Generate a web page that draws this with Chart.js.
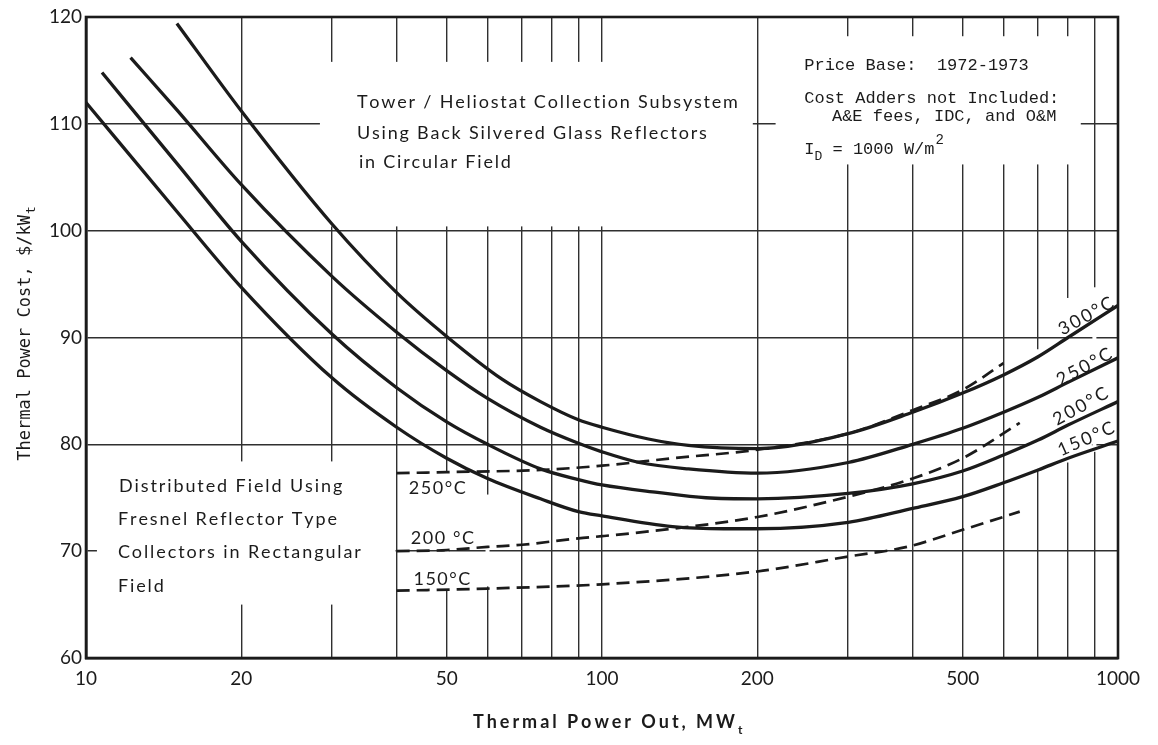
<!DOCTYPE html>
<html>
<head>
<meta charset="utf-8">
<script src="https://cdn.jsdelivr.net/npm/chart.js@4.4.0/dist/chart.umd.min.js"></script>
<style>
  html, body { margin: 0; padding: 0; background: #ffffff; }
  #wrap { width: 1158px; height: 745px; position: relative; }
</style>
</head>
<body>
<div id="wrap"><canvas id="c" width="1158" height="745"></canvas></div>
<script>
// Tower / heliostat field, solid curves: thermal power out (MWt) -> cost ($/kWt)
const towerX300 = [15, 20, 30, 40, 50, 64, 76, 90, 100, 123, 147, 200, 300, 400, 500, 600, 700, 800, 1000];
const towerY300 = [119.4, 111.2, 100.6, 94.2, 90.1, 86.1, 84.0, 82.3, 81.6, 80.5, 79.9, 79.6, 81.0, 83.0, 84.8, 86.5, 88.2, 90.0, 93.0];

const towerX250 = [12.2, 15, 20, 30, 40, 50, 60, 76, 90, 100, 118, 147, 200, 300, 400, 500, 600, 700, 800, 1000];
const towerY250 = [116.2, 111.3, 104.3, 95.7, 90.5, 86.9, 84.3, 81.6, 80.1, 79.3, 78.3, 77.7, 77.3, 78.3, 80.0, 81.5, 83.0, 84.4, 85.8, 88.1];

const towerX200 = [10.74, 15, 20, 30, 40, 50, 60, 76, 90, 100, 128, 159, 200, 300, 400, 500, 600, 700, 800, 1000];
const towerY200 = [114.8, 106.3, 99.0, 90.3, 85.3, 82.1, 80.0, 77.7, 76.7, 76.2, 75.5, 75.0, 74.9, 75.4, 76.3, 77.5, 79.0, 80.4, 81.8, 84.0];

const towerX150 = [10, 15, 20, 30, 40, 50, 60, 76, 90, 100, 137, 172, 200, 300, 400, 500, 600, 700, 800, 1000];
const towerY150 = [112.0, 101.8, 94.7, 86.2, 81.6, 78.7, 76.8, 74.9, 73.7, 73.3, 72.3, 72.1, 72.1, 72.7, 74.0, 75.1, 76.4, 77.6, 78.7, 80.3];

// Distributed Fresnel field, dashed curves
const fresnelX250 = [40, 50, 76, 100, 137, 200, 300, 400, 500, 600];
const fresnelY250 = [77.3, 77.4, 77.6, 78.0, 78.7, 79.5, 81.0, 83.2, 85.1, 87.6];

const fresnelX200 = [40, 50, 60, 70, 90, 100, 137, 200, 300, 400, 500, 645];
const fresnelY200 = [70.0, 70.1, 70.4, 70.6, 71.2, 71.4, 72.1, 73.2, 75.1, 76.8, 78.7, 82.0];

const fresnelX150 = [40, 60, 100, 200, 300, 390, 500, 645];
const fresnelY150 = [66.3, 66.5, 66.9, 68.1, 69.5, 70.4, 72.0, 73.7];

// Axis ticks
const xGridValues = [10, 20, 30, 40, 50, 60, 70, 80, 90, 100, 200, 300, 400, 500, 600, 700, 800, 900, 1000];
const xTickLabels = [10, 20, 50, 100, 200, 500, 1000];
const yTickValues = [60, 70, 80, 90, 100, 110, 120];

const INK = '#1b1b1b';
const GRID = '#2f2f2f';
const SANS = 'Lato, "DejaVu Sans", sans-serif';
const MONO = '"Liberation Mono", "DejaVu Sans Mono", monospace';
const TYPE = '"DejaVu Sans Mono", monospace';

function pts(xs, ys) { return xs.map((x, i) => ({ x: x, y: ys[i] })); }

function solid(label, xs, ys) {
  return { label, data: pts(xs, ys), borderColor: INK, borderWidth: 3.3,
           pointRadius: 0, cubicInterpolationMode: 'monotone', fill: false };
}
function dashed(label, xs, ys) {
  return { label, data: pts(xs, ys), borderColor: INK, borderWidth: 2.7,
           borderDash: [13, 7], pointRadius: 0, cubicInterpolationMode: 'monotone', fill: false };
}

// blank panels of the sheet that interrupt the grid (data units)
const panels = [
  { x0: 28.4, x1: 196, y0: 100.4, y1: 115.8 },
  { x0: 217, x1: 847, y0: 106.2, y1: 118.2 },
  { x0: 10.5, x1: 39.8, y0: 65.0, y1: 78.4 }
];
// short interruptions of single grid lines behind curve labels
const vBreaks = [
  { x: 50, y0: 66.3, y1: 77.4 }, { x: 60, y0: 66.7, y1: 75.3 },
  { x: 700, y0: 77.7, y1: 88.9 }, { x: 800, y0: 78.3, y1: 93.7 }, { x: 900, y0: 79.3, y1: 94.7 }
];
const hBreaks = [ { y: 80, x0: 664, x1: 890 } ];

// letter-spaced text, drawn glyph by glyph
function spacedWidth(ctx, str, spacing) {
  let w = 0;
  for (const ch of str) w += ctx.measureText(ch).width + spacing;
  return w - spacing;
}
function spaced(ctx, str, x, y, spacing, align) {
  const w = spacedWidth(ctx, str, spacing);
  let cx = align === 'center' ? x - w / 2 : (align === 'right' ? x - w : x);
  ctx.textAlign = 'left';
  for (const ch of str) {
    ctx.fillText(ch, cx, y);
    cx += ctx.measureText(ch).width + spacing;
  }
  return w;
}
// spacing that stretches a line to a given width
function fitSpacing(ctx, str, width) {
  const n = [...str].length;
  return (width - spacedWidth(ctx, str, 0)) / (n - 1);
}

const sheet = {
  id: 'sheet',
  beforeDatasetsDraw(chart) {
    const { ctx, scales: { x, y } } = chart;
    ctx.save();
    ctx.fillStyle = '#ffffff';
    for (const p of panels) {
      const l = x.getPixelForValue(p.x0), r = x.getPixelForValue(p.x1);
      const t = y.getPixelForValue(p.y1), b = y.getPixelForValue(p.y0);
      ctx.fillRect(l, t, r - l, b - t);
    }
    for (const g of vBreaks) {
      const xp = x.getPixelForValue(g.x);
      const t = y.getPixelForValue(g.y1), b = y.getPixelForValue(g.y0);
      ctx.fillRect(xp - 2, t, 4, b - t);
    }
    for (const g of hBreaks) {
      const yp = y.getPixelForValue(g.y);
      const l = x.getPixelForValue(g.x0), r = x.getPixelForValue(g.x1);
      ctx.fillRect(l, yp - 2, r - l, 4);
    }

    ctx.fillStyle = INK;
    ctx.textBaseline = 'middle';

    // tower field caption
    ctx.font = '18px ' + SANS;
    const tl = ['Tower / Heliostat Collection Subsystem', 'Using Back Silvered Glass Reflectors', 'in Circular Field'];
    const ts = fitSpacing(ctx, tl[0], 381);
    const tx = x.getPixelForValue(33.5);
    spaced(ctx, tl[0], tx, y.getPixelForValue(112.06), ts, 'left');
    spaced(ctx, tl[1], tx, y.getPixelForValue(109.16), ts, 'left');
    spaced(ctx, tl[2], tx + 2, y.getPixelForValue(106.45), ts, 'left');

    // distributed field caption
    const dl = ['Distributed Field Using', 'Fresnel Reflector Type', 'Collectors in Rectangular', 'Field'];
    const ds = fitSpacing(ctx, dl[2], 243);
    const dx = x.getPixelForValue(11.53);
    spaced(ctx, dl[0], dx + 1, y.getPixelForValue(76.07), ds, 'left');
    spaced(ctx, dl[1], dx, y.getPixelForValue(73.0), ds, 'left');
    spaced(ctx, dl[2], dx, y.getPixelForValue(69.9), ds, 'left');
    spaced(ctx, dl[3], dx, y.getPixelForValue(66.7), ds, 'left');

    // Fresnel curve labels
    const fs = fitSpacing(ctx, '250°C', 57);
    spaced(ctx, '250°C', x.getPixelForValue(42.2), y.getPixelForValue(75.9), fs, 'left');
    spaced(ctx, '200 °C', x.getPixelForValue(42.6), y.getPixelForValue(71.2), fs, 'left');
    spaced(ctx, '150°C', x.getPixelForValue(43.1), y.getPixelForValue(67.4), fs, 'left');

    // tower curve labels along the right edge
    const rl = [
      { t: '300°C', x: 867, y: 92.0, a: -29 },
      { t: '250°C', x: 860, y: 87.25, a: -28.5 },
      { t: '200°C', x: 846, y: 83.55, a: -29 },
      { t: '150°C', x: 867, y: 80.5, a: -24 }
    ];
    ctx.font = '18px ' + SANS;
    const rs = fitSpacing(ctx, '300°C', 60);
    for (const l of rl) {
      ctx.save();
      ctx.translate(x.getPixelForValue(l.x), y.getPixelForValue(l.y));
      ctx.rotate(l.a * Math.PI / 180);
      spaced(ctx, l.t, 0, 0, rs, 'center');
      ctx.restore();
    }

    // typed notes, upper right
    ctx.font = '17px ' + MONO;
    const nx = x.getPixelForValue(246.6);
    ctx.textAlign = 'left';
    ctx.fillText('Price Base:  1972-1973', nx, y.getPixelForValue(115.5));
    ctx.fillText('Cost Adders not Included:', nx, y.getPixelForValue(112.4));
    ctx.fillText('A&E fees, IDC, and O&M', x.getPixelForValue(279), y.getPixelForValue(110.65));
    const ly = y.getPixelForValue(107.6);
    let cx = nx;
    ctx.fillText('I', cx, ly); cx += ctx.measureText('I').width;
    ctx.font = '13px ' + MONO;
    ctx.fillText('D', cx, ly + 7); cx += ctx.measureText('D').width;
    ctx.font = '17px ' + MONO;
    ctx.fillText(' = 1000 W/m', cx, ly); cx += ctx.measureText(' = 1000 W/m').width;
    ctx.font = '14px ' + MONO;
    ctx.fillText('2', cx + 1, ly - 9);
    ctx.restore();
  },
  afterDatasetsDraw(chart) {
    const { ctx, chartArea: a } = chart;
    ctx.save();
    ctx.strokeStyle = INK;
    ctx.lineWidth = 2.6;
    ctx.strokeRect(a.left, a.top, a.right - a.left, a.bottom - a.top);

    ctx.fillStyle = INK;
    ctx.textBaseline = 'alphabetic';

    // x-axis title with subscript
    ctx.font = 'bold 18px ' + SANS;
    const xt = 'Thermal Power Out, MW';
    const sp = fitSpacing(ctx, xt, 262);
    spaced(ctx, xt, 473, 728, sp, 'left');
    ctx.font = 'bold 12px ' + SANS;
    ctx.fillText('t', 473 + 262 + 3, 734);

    // y-axis title with subscript
    ctx.translate(30, 334);
    ctx.rotate(-Math.PI / 2);
    ctx.font = '17px ' + TYPE;
    const yt = 'Thermal Power Cost, $/kW';
    const yw = ctx.measureText(yt).width;
    ctx.font = '13px ' + TYPE;
    const ys = ctx.measureText('t').width;
    const y0 = -(yw + ys) / 2;
    ctx.font = '17px ' + TYPE;
    ctx.textAlign = 'left';
    ctx.fillText(yt, y0, 0);
    ctx.font = '13px ' + TYPE;
    ctx.fillText('t', y0 + yw + 1, 5);
    ctx.restore();
  }
};

new Chart(document.getElementById('c'), {
  type: 'line',
  data: {
    datasets: [
      solid('Tower 300 °C', towerX300, towerY300),
      solid('Tower 250 °C', towerX250, towerY250),
      solid('Tower 200 °C', towerX200, towerY200),
      solid('Tower 150 °C', towerX150, towerY150),
      dashed('Fresnel 250 °C', fresnelX250, fresnelY250),
      dashed('Fresnel 200 °C', fresnelX200, fresnelY200),
      dashed('Fresnel 150 °C', fresnelX150, fresnelY150)
    ]
  },
  options: {
    responsive: false,
    animation: false,
    devicePixelRatio: 1,
    layout: { padding: { left: 0, top: 17, right: 40, bottom: 0 } },
    plugins: { legend: { display: false }, tooltip: { enabled: false } },
    scales: {
      x: {
        type: 'logarithmic',
        min: 10, max: 1000,
        afterBuildTicks(scale) { scale.ticks = xGridValues.map(v => ({ value: v })); },
        afterFit(scale) { scale.height = 87; },
        ticks: {
          autoSkip: false, maxRotation: 0, padding: 9,
          color: INK, font: { family: SANS, size: 19 },
          callback: (v) => xTickLabels.includes(v) ? String(v) : ''
        },
        grid: { color: GRID, lineWidth: 1.4, drawTicks: false },
        border: { color: INK, width: 2.6 }
      },
      y: {
        type: 'linear',
        min: 60, max: 120,
        afterBuildTicks(scale) { scale.ticks = yTickValues.map(v => ({ value: v })); },
        afterFit(scale) { scale.width = 86; },
        ticks: {
          padding: 4, color: INK, font: { family: SANS, size: 19 },
          callback: (v) => String(v)
        },
        grid: { color: GRID, lineWidth: 1.4, drawTicks: false },
        border: { color: INK, width: 2.6 }
      }
    }
  },
  plugins: [sheet]
});
</script>
</body>
</html>
